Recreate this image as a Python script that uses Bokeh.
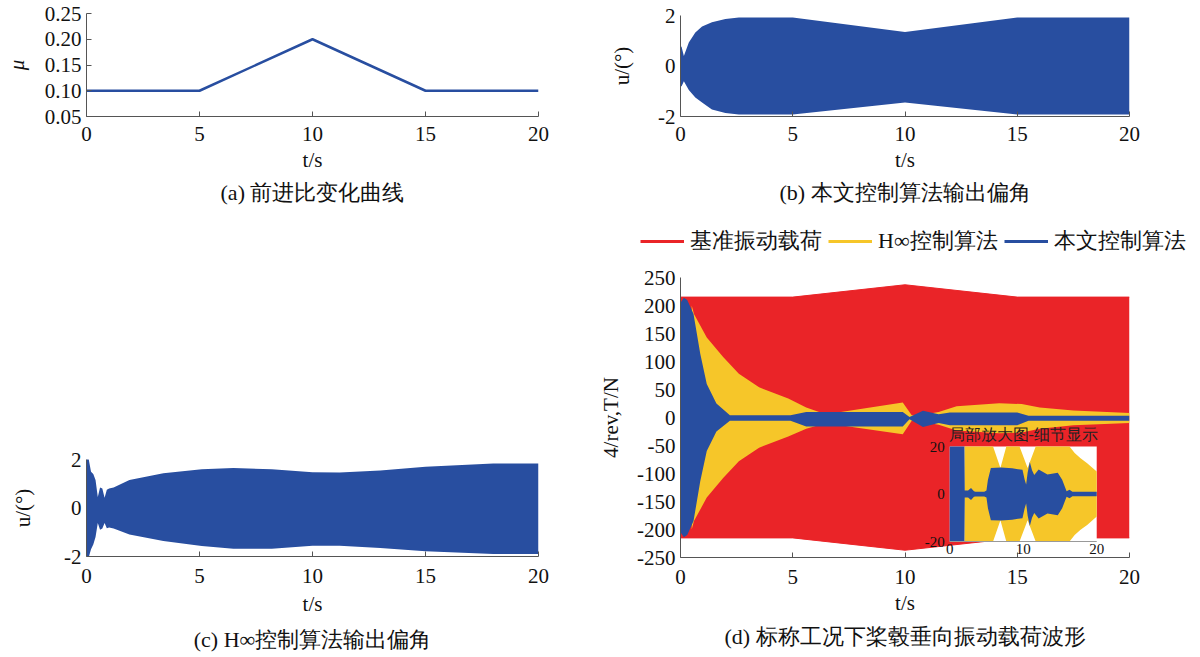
import numpy as np
from bokeh.plotting import figure
from bokeh.models import Range1d, FixedTicker, PrintfTickFormatter, Title, Legend, LegendItem
from bokeh.layouts import row, column
from bokeh.embed import file_html
from bokeh.resources import INLINE
from bokeh.core.properties import value

# ---------------- data ----------------
time_ticks = [0, 5, 10, 15, 20]

# (a) advance ratio
mu_t = [0, 5, 10, 15, 20]
mu_v = [0.10, 0.10, 0.20, 0.10, 0.10]
mu_ticks = [0.05, 0.10, 0.15, 0.20, 0.25]

# (b) proposed controller output angle (envelope of the oscillation)
b_t = [0, 0.05, 0.15, 0.37, 0.66, 0.96, 1.4, 2.0, 2.6, 5.0, 10.0, 15.0, 20.0]
b_up = [0.8, 0.75, 0.4, 0.93, 1.33, 1.56, 1.73, 1.86, 1.92, 1.92, 1.35, 1.92, 1.92]
b_lo = [-0.8, -0.8, -0.6, -0.95, -1.25, -1.45, -1.72, -1.86, -1.92, -1.92, -1.45, -1.92, -1.92]
u_ticks = [-2, 0, 2]

# (c) H-infinity controller output angle (envelope)
c_t = [0, 0.08, 0.2, 0.3, 0.4, 0.5, 0.6, 0.7, 0.8, 0.9, 1.0, 1.2, 1.9, 3.4, 5.1, 6.5,
       8.2, 10.0, 11.2, 13.0, 15.0, 18.0, 20.0]
c_up = [2.1, 2.1, 1.5, 1.4, 1.15, 0.45, 0.85, 0.8, 0.42, 0.75, 0.8, 0.85, 1.15, 1.43, 1.6, 1.65,
        1.6, 1.47, 1.46, 1.55, 1.7, 1.84, 1.84]
c_lo = [-2.1, -2.1, -1.7, -1.5, -1.2, -0.62, -0.9, -0.85, -0.62, -0.83, -0.8, -0.85, -1.09, -1.36, -1.57, -1.68,
        -1.68, -1.56, -1.56, -1.65, -1.78, -1.9, -1.9]

# (d) hub vertical 4/rev load (envelopes)
load_ticks = [-250, -200, -150, -100, -50, 0, 50, 100, 150, 200, 250]
red_t = [0, 5, 10, 15, 20]
red_up = [215, 215, 237, 215, 215]
red_lo = [-215, -215, -237, -215, -215]

yel_t = [0.5, 0.6, 1.17, 1.9, 2.6, 3.5, 4.8, 5.6, 6.3, 7.0, 7.8, 9.9, 10.3, 10.8, 11.5, 12.3,
         14.2, 15.2, 16.0, 17.5, 20.0]
yel_up = [200, 185, 143, 108, 78, 54, 34, 18, 8, 9, 14, 27, 4, 5, 10, 20, 25.5, 24, 18, 12.5, 8]
yel_lo = [-200, -185, -143, -108, -78, -54, -34, -20, -12, -13, -18, -30, -6, -8, -13, -23, -28, -27, -20, -14, -10]

blu_t = [0, 0.15, 0.3, 0.58, 0.88, 1.17, 1.6, 2.2, 2.6, 4.9, 5.6, 9.9, 10.2, 10.8, 11.5, 12.0,
         15.0, 15.5, 16.0, 20.0]
blu_up = [205, 214, 210, 185, 114, 60, 25, 4, 4, 4, 10, 10, 1, 12, 6, 9, 9, 3, 3, 3]
blu_lo = [-205, -214, -210, -185, -114, -60, -25, -6, -6, -6, -16, -16, -3, -17, -10, -14, -14, -6, -6, -6]

# inset (zoomed detail)
ins_x_ticks = [0, 10, 20]
ins_y_ticks = [-20, 0, 20]
ins_yel_t = [2.0, 5.0, 5.9, 6.9, 7.7, 8.6, 9.5, 10.6, 11.7, 13.0, 15.0, 16.3, 17.0, 17.8, 18.7, 20.0]
ins_yel_amp = [60, 28, 20, 11, 20, 26, 20, 11, 20, 30, 27, 20, 17.3, 15.1, 13, 9.5]
ins_blu_t = [0, 2.0, 2.05, 2.5, 2.9, 3.3, 3.5, 4.7, 5.0, 5.2, 5.6, 7.0, 8.5, 9.9, 10.2, 10.4,
             10.6, 10.9, 11.2, 11.5, 12.1, 13.3, 14.7, 15.3, 15.9, 16.3, 16.7, 20.0]
ins_blu_amp = [40, 40, 1.5, 1.5, 2.5, 1.2, 1.0, 1.0, 1.5, 6, 11, 11.2, 10.8, 10.2, 6, 4,
               9, 13.5, 10, 8, 10.3, 8.2, 8.9, 6, 1.2, 1.8, 0.9, 0.9]

captions = ["(a) 前进比变化曲线", "(b) 本文控制算法输出偏角",
            "(c) H∞控制算法输出偏角", "(d) 标称工况下桨毂垂向振动载荷波形"]
legend_labels = ["基准振动载荷", "H∞控制算法", "本文控制算法"]

# ---------------- style ----------------
SERIF = "Liberation Serif"
BLUE = "#284EA0"
RED = "#EA2428"
YELLOW = "#F6C629"
AX = "#555555"
FS = "21px"
CAP_FS = "22px"


def make_fig(w, h, left, right, top, bottom, xr, yr):
    p = figure(width=w, height=h, x_range=xr, y_range=yr, output_backend="svg",
               toolbar_location=None, min_border_left=left, min_border_right=right,
               min_border_top=top, min_border_bottom=bottom)
    p.outline_line_color = None
    p.grid.visible = False
    p.background_fill_color = "white"
    p.border_fill_color = "white"
    return p


def style_axes(p, yticks, ylabel, ylab_standoff, xstd, caption, yfmt=None, ystyle="normal", ytick_in=5):
    tick_std, lab_std, cap_std = xstd
    for ax in (p.xaxis[0], p.yaxis[0]):
        ax.axis_line_color = AX
        ax.axis_line_width = 1
        ax.major_tick_line_color = AX
        ax.major_tick_in = 5
        ax.major_tick_out = 0
        ax.minor_tick_line_color = None
        ax.major_label_text_font = SERIF
        ax.major_label_text_font_size = FS
        ax.major_label_text_color = "#111111"
        ax.axis_label_text_font = SERIF
        ax.axis_label_text_font_size = FS
        ax.axis_label_text_color = "#111111"
    p.yaxis.major_tick_in = ytick_in
    p.xaxis.ticker = FixedTicker(ticks=time_ticks)
    p.xaxis.major_label_overrides = {t: str(t) for t in time_ticks}
    p.xaxis.axis_label = "t/s"
    p.xaxis.axis_label_text_font_style = "normal"
    p.xaxis.major_label_standoff = tick_std
    p.xaxis.axis_label_standoff = lab_std
    p.yaxis.ticker = FixedTicker(ticks=yticks)
    if yfmt is not None:
        p.yaxis.formatter = yfmt
    else:
        p.yaxis.major_label_overrides = {t: str(t) for t in yticks}
    p.yaxis.axis_label = ylabel
    p.yaxis.axis_label_text_font_style = ystyle
    p.yaxis.major_label_standoff = 5
    p.yaxis.axis_label_standoff = ylab_standoff
    p.add_layout(Title(text=caption, align="center", text_font=SERIF, text_font_size=CAP_FS,
                       text_font_style="normal", text_color="#111111", standoff=cap_std), "below")


# sizes (page px)
H1, H2 = 222, 435
W1, W2 = 596, 604
FW = 452
LEG_H = 42
LB = 81   # left border of right-hand panels

# (a)
pa = make_fig(W1, H1, 86, W1 - 86 - FW, 13, H1 - 13 - 103, Range1d(0, 20), Range1d(0.05, 0.25))
pa.line(mu_t, mu_v, line_color=BLUE, line_width=2.5)
style_axes(pa, mu_ticks, "μ", 13, (10, 4, 7), captions[0],
           yfmt=PrintfTickFormatter(format="%.2f"), ystyle="italic")

# (b)
pb = make_fig(W2, H1, LB, W2 - LB - FW, 15, H1 - 15 - 101, Range1d(0, 20), Range1d(-2, 2))
pb.varea(x=b_t, y1=b_lo, y2=b_up, fill_color=BLUE)
style_axes(pb, u_ticks, "u/(°)", 21, (10, 4, 7), captions[1], ytick_in=0)

# (c)
pc = make_fig(W1, H2, 86, W1 - 86 - FW, 237, 100, Range1d(0, 20), Range1d(-2, 2))
pc.varea(x=c_t, y1=c_lo, y2=c_up, fill_color=BLUE)
style_axes(pc, u_ticks, "u/(°)", 26, (12, 6, 12), captions[2], ytick_in=0)

# (d)
FRAME_H = 280
pd_ = make_fig(W2, H2 - LEG_H, LB, W2 - LB - FW, 55 - LEG_H, 100, Range1d(0, 20), Range1d(-250, 250))
pd_.varea(x=red_t, y1=red_lo, y2=red_up, fill_color=RED)
pd_.line(red_t, red_up, line_color=RED, line_width=1)
pd_.line(red_t, red_lo, line_color=RED, line_width=1)
pd_.varea(x=yel_t, y1=yel_lo, y2=yel_up, fill_color=YELLOW)
pd_.varea(x=blu_t, y1=blu_lo, y2=blu_up, fill_color=BLUE)
style_axes(pd_, load_ticks, "4/rev,T/N", 11, (12, 4, 9), captions[3], ytick_in=0)

# legend strip above panel (d): its own small figure (series drawn out of view)
pl = figure(width=W2, height=LEG_H, x_range=Range1d(0, 20), y_range=Range1d(-1, 0),
            output_backend="svg", toolbar_location=None, x_axis_location=None,
            y_axis_location=None, min_border_left=0, min_border_right=0,
            min_border_top=0, min_border_bottom=0)
pl.outline_line_color = None
pl.grid.visible = False
pl.border_fill_color = "white"
l_red = pl.line(red_t, red_up, line_color=RED, line_width=3)
l_yel = pl.line(yel_t, yel_up, line_color=YELLOW, line_width=3)
l_blu = pl.line(blu_t, blu_up, line_color=BLUE, line_width=3)
legend = Legend(items=[LegendItem(label=legend_labels[0], renderers=[l_red]),
                       LegendItem(label=legend_labels[1], renderers=[l_yel]),
                       LegendItem(label=legend_labels[2], renderers=[l_blu])],
                orientation="horizontal", location=(640 - W1, 8), border_line_color=None,
                background_fill_alpha=0, label_text_font=SERIF, label_text_font_size=CAP_FS,
                label_text_color="#111111", glyph_width=44, glyph_height=20, spacing=6,
                label_standoff=6, padding=0, margin=0)
pl.add_layout(legend, "center")

# inset placed inside panel (d) through extra ranges
INS_L, INS_W = 271, 148     # px from frame left, px width
INS_B, INS_H = 16, 95       # px from frame bottom, px height
ux = (ins_x_ticks[-1] - ins_x_ticks[0]) / INS_W
uy = (ins_y_ticks[-1] - ins_y_ticks[0]) / INS_H
xs0 = ins_x_ticks[0] - INS_L * ux
ys0 = ins_y_ticks[0] - INS_B * uy
pd_.extra_x_ranges = {"ins": Range1d(xs0, xs0 + FW * ux)}
pd_.extra_y_ranges = {"ins": Range1d(ys0, ys0 + FRAME_H * uy)}
lo_lim, hi_lim = ins_y_ticks[0], ins_y_ticks[-1]
kw = dict(x_range_name="ins", y_range_name="ins")
pd_.quad(left=ins_x_ticks[0], right=ins_x_ticks[-1], bottom=lo_lim, top=hi_lim,
         fill_color="white", line_color=None, **kw)
iy = np.clip(np.array(ins_yel_amp), lo_lim, hi_lim)
pd_.varea(x=ins_yel_t, y1=-iy, y2=iy, fill_color=YELLOW, **kw)
ib = np.clip(np.array(ins_blu_amp), lo_lim, hi_lim)
pd_.varea(x=ins_blu_t, y1=-ib, y2=ib, fill_color=BLUE, **kw)
pd_.line(x=[ins_x_ticks[0], ins_x_ticks[-1]], y=[lo_lim, lo_lim], line_color="#999999",
         line_width=1, **kw)
pd_.text(x=ins_x_ticks, y=[lo_lim] * len(ins_x_ticks), text=[str(v) for v in ins_x_ticks],
         text_align="center", text_baseline="top", y_offset=2, text_font=value(SERIF),
         text_font_size="15px", text_color="#111111", **kw)
pd_.text(x=[ins_x_ticks[0]] * len(ins_y_ticks), y=ins_y_ticks, text=[str(v) for v in ins_y_ticks],
         text_align="right", text_baseline="middle", x_offset=-5, text_font=value(SERIF),
         text_font_size="15px", text_color="#111111", **kw)
pd_.text(x=[(ins_x_ticks[0] + ins_x_ticks[-1]) / 2], y=[hi_lim], text=["局部放大图-细节显示"],
         text_align="center", text_baseline="bottom", y_offset=-4, text_font=value(SERIF),
         text_font_size="16px", text_color="#222222", **kw)

layout = row(column(pa, pc), column(pb, column(pl), pd_))
open("out.html", "w").write(file_html(layout, INLINE))
